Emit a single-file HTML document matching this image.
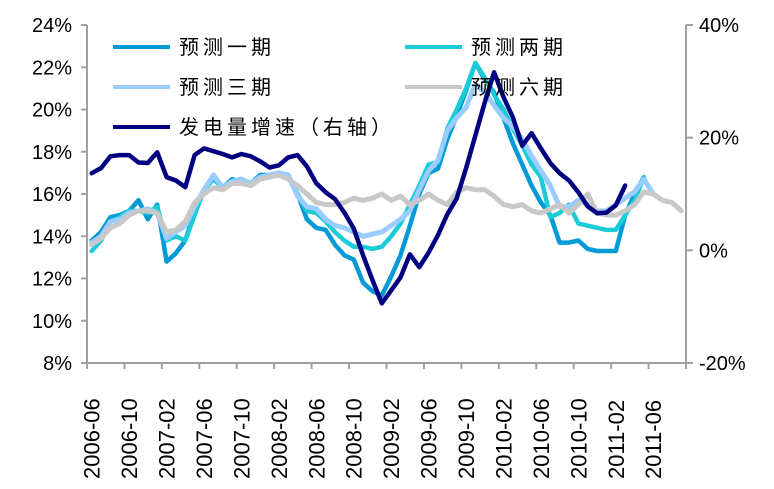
<!DOCTYPE html>
<html><head><meta charset="utf-8">
<style>
html,body{margin:0;padding:0;background:#fff;}
svg{display:block;font-family:"Liberation Sans","Noto Sans CJK SC",sans-serif;}
</style></head>
<body>
<svg id="chart" width="774" height="489" viewBox="0 0 774 489" xmlns="http://www.w3.org/2000/svg">
<g id="axes"></g>
<g id="series"></g>
<g id="legend"></g>
</svg>
<script>
const months = ["2006-06","2006-07","2006-08","2006-09","2006-10","2006-11","2006-12","2007-01","2007-02","2007-03","2007-04","2007-05","2007-06","2007-07","2007-08","2007-09","2007-10","2007-11","2007-12","2008-01","2008-02","2008-03","2008-04","2008-05","2008-06","2008-07","2008-08","2008-09","2008-10","2008-11","2008-12","2009-01","2009-02","2009-03","2009-04","2009-05","2009-06","2009-07","2009-08","2009-09","2009-10","2009-11","2009-12","2010-01","2010-02","2010-03","2010-04","2010-05","2010-06","2010-07","2010-08","2010-09","2010-10","2010-11","2010-12","2011-01","2011-02","2011-03","2011-04","2011-05","2011-06","2011-07","2011-08","2011-09"];
const leftTicks = [8,10,12,14,16,18,20,22,24];
const rightTicks = [-20,0,20,40];
const forecast1 = [13.8,14.2,14.9,15.0,15.2,15.7,14.8,15.5,12.8,13.2,13.8,15.2,16.1,16.9,16.3,16.7,16.6,16.5,16.9,16.9,17.0,16.8,16.0,14.8,14.4,14.3,13.6,13.1,12.9,11.8,11.4,11.2,12.1,13.1,14.5,16.0,17.0,17.2,18.6,19.7,20.9,22.2,21.4,20.8,19.6,18.4,17.4,16.4,15.6,15.0,13.7,13.7,13.8,13.4,13.3,13.3,13.3,15.0,16.0,16.8];
const forecast2 = [13.3,13.8,14.7,14.9,15.2,15.2,15.1,15.4,13.8,14.0,13.8,15.0,16.2,16.7,16.3,16.6,16.7,16.5,16.8,16.9,17.0,16.9,16.0,15.2,15.1,14.7,14.2,13.8,13.5,13.5,13.4,13.5,14.0,14.6,15.5,16.4,17.4,17.5,19.1,20.0,21.0,22.2,21.5,20.7,20.0,19.1,18.3,17.4,16.8,14.9,15.1,15.5,14.6,14.5,14.4,14.3,14.3,15.0,15.7,16.8];
const forecast3 = [13.7,14.0,14.7,14.8,15.1,15.2,15.3,15.1,13.9,14.2,14.5,15.4,16.2,16.9,16.3,16.6,16.7,16.5,16.8,16.9,17.0,16.9,15.9,15.4,15.3,14.8,14.5,14.4,14.2,14.0,14.1,14.2,14.5,14.8,15.2,16.2,17.1,17.6,19.0,19.6,20.1,21.2,20.8,20.2,19.6,19.2,18.6,17.8,17.1,16.4,15.4,15.4,15.7,15.5,15.2,15.2,15.5,15.8,16.1,16.7,16.0];
const forecast6 = [13.6,13.9,14.4,14.6,15.0,15.2,15.2,15.1,14.2,14.3,14.7,15.6,16.0,16.3,16.2,16.5,16.5,16.4,16.7,16.8,16.9,16.7,16.4,16.0,15.6,15.5,15.5,15.6,15.8,15.7,15.8,16.0,15.7,15.9,15.5,15.7,16.0,15.7,15.5,16.1,16.3,16.2,16.2,15.9,15.5,15.4,15.5,15.2,15.1,15.3,15.5,15.1,15.5,16.0,15.1,15.0,15.0,15.2,15.5,16.1,16.0,15.7,15.6,15.2];
const powerGrowth = [13.7,14.6,16.7,16.9,16.9,15.6,15.5,17.4,13.0,12.4,11.2,16.9,18.1,17.6,17.1,16.5,17.1,16.7,15.8,14.7,15.1,16.5,16.9,14.9,11.9,10.3,9.1,6.7,3.9,-0.9,-5.3,-9.4,-7.1,-4.8,-0.7,-3.0,-0.4,2.7,6.4,9.2,14.6,20.4,26.3,31.6,27.2,23.6,18.6,20.8,18.1,15.5,13.7,12.4,10.3,7.8,6.6,6.7,8.0,11.5];

const NS="http://www.w3.org/2000/svg";
const X0=87,X1=686,YT=25,YB=363;
const step=(X1-X0)/months.length;
function xAt(i){return X0+(i+0.5)*step;}
function yL(v){return YB-(v-8)/16*(YB-YT);}
function yR(v){return YB-(v+20)/60*(YB-YT);}
function mk(tag,attrs,parent){const e=document.createElementNS(NS,tag);for(const k in attrs)e.setAttribute(k,attrs[k]);parent.appendChild(e);return e;}
const axes=document.getElementById('axes');
const AX="#a0a0a0";
let e;
e=mk('line',{x1:X0,y1:YT,x2:X0,y2:YB,stroke:AX,'stroke-width':2},axes);


e=mk('line',{x1:X1,y1:YT,x2:X1,y2:YB,stroke:AX,'stroke-width':2},axes);


e=mk('line',{x1:X0,y1:YB,x2:X1+6,y2:YB,stroke:AX,'stroke-width':2},axes);


leftTicks.forEach(v=>{
  const y=yL(v);
  const t=mk('line',{x1:X0-6,y1:y,x2:X0,y2:y,stroke:AX,'stroke-width':2},axes);
  
  
  const l=mk('text',{x:X0-15,y:y+7,'text-anchor':'end','font-size':20,fill:'#000'},axes);
  l.textContent=v+'%';
  
  
});
rightTicks.forEach(v=>{
  const y=yR(v);
  const t=mk('line',{x1:X1,y1:y,x2:X1+7,y2:y,stroke:AX,'stroke-width':2},axes);
  
  
  const l=mk('text',{x:X1+13,y:y+7,'text-anchor':'start','font-size':20,fill:'#000'},axes);
  l.textContent=v+'%';
  
  
});
for(let i=0;i<=months.length;i+=4){
  const x=X0+i*step;
  const t=mk('line',{x1:x,y1:YB,x2:x,y2:YB+6,stroke:AX,'stroke-width':2},axes);
  
  
  if(i<months.length){
    const cx=xAt(i)+8;
    const l=mk('text',{x:0,y:0,transform:'translate('+cx+',479) rotate(-90)','font-size':22,fill:'#000'},axes);
    l.textContent=months[i];
    
    
  }
}
const seriesG=document.getElementById('series');
function line(data,scale,color,w,name){
  const pts=data.map((v,i)=>xAt(i).toFixed(1)+','+scale(v).toFixed(1)).join(' ');
  const p=mk('polyline',{points:pts,fill:'none',stroke:color,'stroke-width':w,'stroke-linejoin':'round','stroke-linecap':'round'},seriesG);
  
  
}
line(forecast1,yL,'#009ad6',4.5,'line-forecast-1');
line(forecast2,yL,'#1ccbd8',4.5,'line-forecast-2');
line(forecast3,yL,'#99ccff',5,'line-forecast-3');
line(forecast6,yL,'#c8c8c8',5,'line-forecast-6');
line(powerGrowth,yR,'#000080',4.5,'line-power-growth');

const legend=document.getElementById('legend');
const items=[['预测一期','#009ad6',113,47],['预测两期','#1ccbd8',405,47],['预测三期','#99ccff',113,87],['预测六期','#c8c8c8',405,87],['发电量增速（右轴）','#000080',113,127]];
items.forEach(it=>{
  const g=mk('g',{},legend);
  
  
  const l=mk('line',{x1:it[2],y1:it[3],x2:it[2]+57,y2:it[3],stroke:it[1],'stroke-width':4},g);
  
  
  const t=mk('text',{x:it[2]+66,y:it[3]+7,'font-size':20,'letter-spacing':4,fill:'#000'},g);
  t.textContent=it[0];
  
  
});
</script>
</body></html>
